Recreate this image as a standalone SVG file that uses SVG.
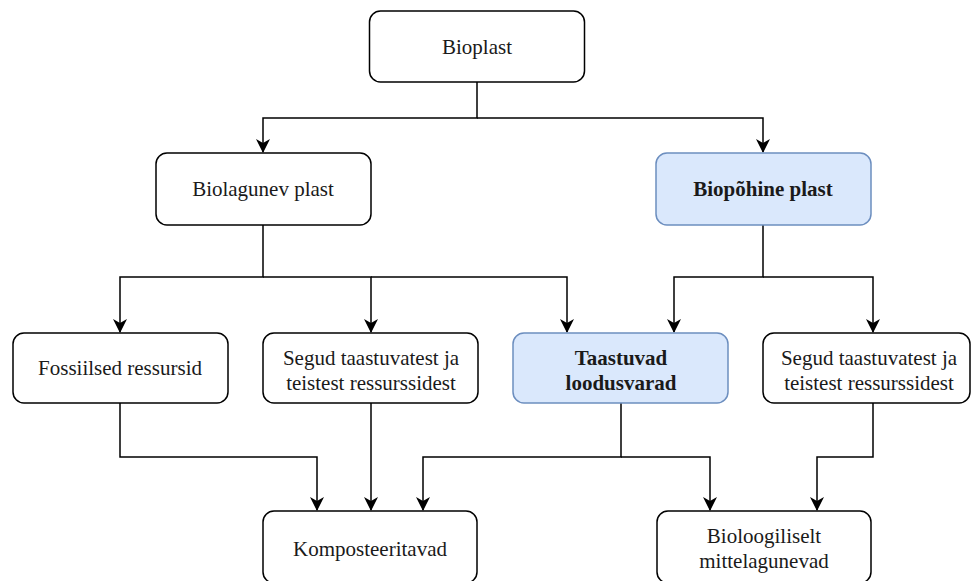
<svg xmlns="http://www.w3.org/2000/svg" width="972" height="581" viewBox="0 0 972 581">
<style>
.box{fill:#fff;stroke:#000;stroke-width:1.5}
.blue{fill:#dae8fc;stroke:#6c8ebf;stroke-width:1.5}
.t{font-family:"Liberation Serif","Times New Roman",serif;font-size:21px;fill:#1a1a1a;text-anchor:middle}
.b{font-weight:bold}
.c{fill:none;stroke:#000;stroke-width:1.5}
</style>
<defs>
<marker id="ar" viewBox="0 0 14 14" refX="13" refY="7" markerWidth="14" markerHeight="14" markerUnits="userSpaceOnUse" orient="auto">
<path d="M0,0 L14,7 L0,14 L4,7 Z" fill="#000"/>
</marker>
</defs>
<g id="connectors">
<path class="c" d="M477,82 V118 H263 V152" marker-end="url(#ar)"/>
<path class="c" d="M477,118 H763 V152" marker-end="url(#ar)"/>
<path class="c" d="M263,225 V277 H120 V332" marker-end="url(#ar)"/>
<path class="c" d="M263,277 H371 V332" marker-end="url(#ar)"/>
<path class="c" d="M371,277 H567 V332" marker-end="url(#ar)"/>
<path class="c" d="M763,225 V277 H674 V332" marker-end="url(#ar)"/>
<path class="c" d="M763,277 H873 V332" marker-end="url(#ar)"/>
<path class="c" d="M120,403 V457 H317 V510" marker-end="url(#ar)"/>
<path class="c" d="M371,403 V510" marker-end="url(#ar)"/>
<path class="c" d="M621,403 V457 H423 V510" marker-end="url(#ar)"/>
<path class="c" d="M621,457 H710 V510" marker-end="url(#ar)"/>
<path class="c" d="M873,403 V457 H817 V510" marker-end="url(#ar)"/>
</g>
<g id="bioplast">
<rect class="box" x="369.5" y="11" width="215" height="71" rx="11"/>
<text class="t" x="477" y="54">Bioplast</text>
</g>
<g id="biolagunev">
<rect class="box" x="156" y="153" width="215" height="72" rx="11"/>
<text class="t" x="263" y="196">Biolagunev plast</text>
</g>
<g id="biopohine">
<rect class="blue" x="656" y="153" width="215" height="72" rx="11"/>
<text class="t b" x="763" y="196">Biopõhine plast</text>
</g>
<g id="fossiilsed">
<rect class="box" x="13" y="333" width="215" height="70" rx="11"/>
<text class="t" x="120" y="375">Fossiilsed ressursid</text>
</g>
<g id="segud1">
<rect class="box" x="263" y="333" width="215" height="70" rx="11"/>
<text class="t" x="371" y="365">Segud taastuvatest ja</text>
<text class="t" x="371" y="390">teistest ressurssidest</text>
</g>
<g id="taastuvad">
<rect class="blue" x="513" y="333" width="215" height="70" rx="11"/>
<text class="t b" x="621" y="365">Taastuvad</text>
<text class="t b" x="621" y="390">loodusvarad</text>
</g>
<g id="segud2">
<rect class="box" x="763" y="333" width="207" height="70" rx="11"/>
<text class="t" x="869" y="365">Segud taastuvatest ja</text>
<text class="t" x="869" y="390">teistest ressurssidest</text>
</g>
<g id="komposteeritavad">
<rect class="box" x="263" y="511" width="214" height="72" rx="11"/>
<text class="t" x="370" y="556">Komposteeritavad</text>
</g>
<g id="bioloogiliselt">
<rect class="box" x="657" y="511" width="214" height="72" rx="11"/>
<text class="t" x="764" y="543">Bioloogiliselt</text>
<text class="t" x="764" y="568">mittelagunevad</text>
</g>
</svg>
